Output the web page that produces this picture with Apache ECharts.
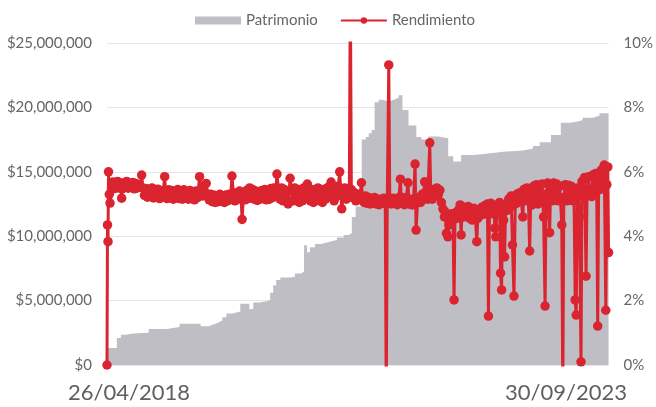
<!DOCTYPE html>
<html>
	<head>
		<meta charset="UTF-8">
		<script type="text/javascript" src="https://cdn.jsdelivr.net/npm/echarts/dist/echarts.min.js"></script>
		<title>Patrimonio y Rendimiento</title>
		<style>
			html, body { margin: 0; padding: 0; background: #fff; }
		</style>
	</head>
	<body>
		<div id="graph" style="width: 656px; height: 407px;"></div>
	</body>
	<script>
		// x = days since 26/04/2018
		var xLabels = ['26/04/2018', '30/09/2023'];
		var totalDays = 1983;
		var seriesNames = ['Patrimonio', 'Rendimiento'];

		// [day, patrimonio in $]
		var patrimonio = [
			[0, 1320000], [39, 2100000], [55, 2350000], [75, 2450000], [102, 2500000], [165, 2800000],
			[236, 2950000], [287, 3200000], [370, 3000000], [401, 3150000], [421, 3300000], [441, 3450000],
			[456, 3700000], [472, 4000000], [496, 4150000], [527, 4750000], [563, 4350000], [578, 4850000],
			[602, 4950000], [633, 5050000], [645, 5600000], [657, 6200000], [669, 6600000], [685, 6800000],
			[724, 6850000], [743, 7100000], [767, 7250000], [779, 9300000], [791, 8750000], [802, 9150000],
			[822, 9400000], [846, 9550000], [877, 9700000], [909, 9900000], [936, 10100000], [956, 10250000],
			[968, 11500000], [983, 12300000], [1007, 17500000], [1023, 17700000], [1035, 18000000], [1046, 18250000],
			[1058, 20400000], [1074, 20600000], [1090, 20450000], [1113, 20600000], [1133, 20750000], [1153, 20950000],
			[1168, 19800000], [1192, 18600000], [1223, 17700000], [1243, 17500000], [1271, 17750000], [1310, 17600000],
			[1349, 16200000], [1369, 15800000], [1400, 16300000], [1448, 16400000], [1499, 16550000], [1566, 16650000],
			[1644, 16800000], [1684, 17000000], [1711, 17300000], [1755, 17850000], [1794, 18800000], [1829, 18900000],
			[1861, 19000000], [1880, 19200000], [1920, 19350000], [1947, 19550000], [1983, 19650000]
		];

		// [day, rendimiento in %]
		var rendimiento = [
			[0, 0], [2, 4.35], [4, 3.83], [6, 6.0], [9, 5.3], [12, 5.03],
			[18, 5.5], [24, 5.68], [30, 5.48], [36, 5.62], [42, 5.7], [48, 5.5], [54, 5.64], [58, 5.18],
			[60, 5.47], [66, 5.66], [72, 5.52], [78, 5.7], [84, 5.49], [90, 5.62], [96, 5.55], [102, 5.67],
			[108, 5.47], [114, 5.64], [120, 5.5], [126, 5.6], [132, 5.52], [137, 5.9],
			[142, 5.5], [148, 5.27], [154, 5.48], [160, 5.21], [166, 5.44], [172, 5.25], [178, 5.5], [184, 5.19],
			[190, 5.42], [196, 5.23], [202, 5.46], [208, 5.17], [214, 5.4], [220, 5.21], [228, 5.85], [232, 5.35],
			[238, 5.17], [244, 5.44], [250, 5.23], [256, 5.42], [262, 5.15], [268, 5.38], [274, 5.2], [280, 5.45],
			[286, 5.17], [292, 5.4], [298, 5.15], [304, 5.44], [310, 5.21], [316, 5.38], [322, 5.15], [328, 5.42],
			[334, 5.19], [340, 5.36], [346, 5.13], [352, 5.4], [358, 5.2], [366, 5.85], [372, 5.45], [378, 5.25],
			[384, 5.55], [388, 5.35], [392, 5.64], [398, 5.25],
			[404, 5.13], [410, 5.3], [416, 5.07], [422, 5.28], [428, 5.05], [434, 5.25], [440, 5.07], [446, 5.3],
			[452, 5.09], [458, 5.26], [464, 5.05], [470, 5.28], [476, 5.1], [482, 5.3], [488, 5.15], [494, 5.87],
			[500, 5.3], [506, 5.1], [512, 5.35], [518, 5.15], [524, 5.4], [530, 5.2], [534, 4.52], [540, 5.3],
			[546, 5.13], [552, 5.42], [558, 5.17], [564, 5.5], [570, 5.25], [576, 5.45], [582, 5.15], [588, 5.4],
			[594, 5.11], [600, 5.38], [606, 5.15], [612, 5.42], [618, 5.2], [624, 5.45], [630, 5.13],
			[636, 5.4], [642, 5.15], [648, 5.48], [654, 5.2], [660, 5.5], [666, 5.25], [672, 5.93], [678, 5.45],
			[684, 5.15], [690, 5.5], [696, 5.1], [702, 5.45], [708, 5.2], [716, 5.0], [724, 5.8], [730, 5.4],
			[736, 5.1], [742, 5.5], [748, 5.15], [754, 5.45], [760, 5.05], [766, 5.4], [772, 5.1], [778, 5.5],
			[784, 5.25], [792, 5.62], [798, 5.35], [804, 5.1], [810, 5.45], [816, 5.05], [822, 5.4], [828, 5.15],
			[834, 5.5], [840, 5.1], [846, 5.45], [852, 5.05], [858, 5.4], [864, 5.15], [870, 5.5], [876, 5.25],
			[880, 5.55], [886, 5.68], [892, 5.35], [898, 5.1], [904, 5.45], [910, 5.25], [914, 5.55], [920, 6.0],
			[928, 4.85], [934, 5.25], [940, 5.5], [946, 5.15], [952, 5.45], [958, 5.25], [962, 12], [966, 5.45],
			[972, 5.2], [978, 5.35], [984, 5.1], [990, 5.3], [996, 5.15], [1000, 5.28], [1006, 5.66], [1010, 5.2],
			[1016, 5.05], [1022, 5.25], [1028, 5.02], [1034, 5.2], [1040, 5.0], [1046, 5.18], [1052, 5.02], [1058, 5.2],
			[1064, 5.0], [1070, 5.15], [1076, 4.98], [1082, 5.15], [1088, 5.02], [1094, 5.18], [1100, 5.05], [1104, -1],
			[1108, 5.1], [1114, 9.32], [1118, 5.15], [1124, 5.0], [1130, 5.18], [1136, 5.02], [1142, 5.15], [1148, 4.98],
			[1154, 5.2], [1160, 5.77], [1164, 5.05], [1170, 5.2], [1176, 4.98], [1182, 5.12], [1190, 5.66], [1194, 5.0],
			[1200, 5.15], [1206, 4.97], [1212, 5.15], [1218, 6.24], [1222, 4.19], [1228, 5.05], [1234, 5.2], [1240, 5.05],
			[1246, 5.3], [1252, 5.15], [1256, 5.69], [1262, 5.4], [1268, 5.15], [1276, 6.9], [1280, 5.35], [1286, 5.15],
			[1292, 5.45], [1298, 5.25], [1304, 5.5], [1310, 5.3], [1316, 5.43], [1322, 5.05],
			[1328, 4.85], [1334, 4.6], [1338, 4.75], [1342, 4.09], [1348, 3.98], [1352, 4.35], [1358, 4.5], [1364, 4.7],
			[1368, 4.55], [1372, 2.02], [1376, 4.72], [1382, 4.55], [1388, 4.8], [1392, 4.6], [1396, 4.97], [1400, 4.04],
			[1404, 4.8], [1410, 4.6], [1416, 4.9], [1422, 4.7], [1428, 4.92], [1434, 4.55], [1440, 4.85], [1444, 4.5],
			[1450, 4.87], [1456, 4.6], [1462, 3.83], [1466, 4.55], [1470, 4.8],
			[1476, 4.65], [1482, 4.9], [1488, 4.68], [1494, 4.95], [1500, 4.72], [1504, 5.0], [1508, 1.52], [1512, 4.75],
			[1518, 5.02], [1524, 4.7], [1530, 4.95], [1533, 4.25], [1537, 3.98], [1542, 4.9], [1548, 4.7], [1552, 5.05],
			[1556, 2.85], [1560, 2.33], [1564, 4.8], [1568, 4.5], [1572, 3.36], [1576, 4.95], [1582, 4.8], [1588, 5.15],
			[1594, 4.9], [1598, 5.25], [1603, 3.73], [1609, 2.14], [1614, 5.0], [1620, 5.3], [1626, 5.05], [1632, 5.35],
			[1638, 5.1], [1644, 4.6], [1648, 5.45], [1654, 5.1], [1660, 5.5], [1666, 5.15], [1671, 3.54], [1676, 5.4],
			[1680, 4.97], [1686, 5.55], [1692, 5.1], [1698, 5.6], [1704, 5.0], [1710, 5.55], [1716, 5.1], [1720, 5.62],
			[1726, 4.6], [1732, 1.83], [1736, 5.3], [1742, 5.65], [1746, 5.15], [1750, 4.11], [1754, 5.6], [1760, 5.1],
			[1766, 5.65], [1772, 5.2], [1778, 5.62], [1784, 5.1], [1790, 5.55], [1798, 4.35], [1802, -1], [1806, 5.2],
			[1812, 5.6], [1818, 5.1], [1824, 5.58], [1830, 5.15], [1836, 5.55], [1842, 5.1], [1846, 5.45], [1851, 2.02],
			[1855, 1.55], [1860, 5.5], [1864, 5.25], [1868, 4.6], [1874, 0.1], [1878, 5.7], [1884, 5.3], [1888, 5.82],
			[1894, 2.76], [1898, 5.4], [1904, 5.85], [1908, 5.3], [1916, 5.23], [1920, 5.9], [1926, 5.4], [1932, 5.95],
			[1936, 5.5], [1940, 1.21], [1944, 5.95], [1950, 5.45], [1954, 6.05], [1958, 5.55], [1962, 6.1], [1966, 6.21],
			[1972, 1.7], [1976, 5.6], [1980, 6.15], [1983, 3.49]
		];

		var gray = '#c0bec5';
		var red = '#da2430';
		var textColor = '#666666';

		function money(v) {
			return '$' + String(v).replace(/\B(?=(\d{3})+(?!\d))/g, ',');
		}

		var myChart = echarts.init(document.getElementById('graph'));
		var option = {
			animation: false,
			textStyle: { fontFamily: 'Lato' },
			legend: {
				left: 190,
				top: 8,
				itemWidth: 46,
				itemHeight: 8,
				itemGap: 22,
				textStyle: { fontFamily: 'Lato', fontSize: 15, color: textColor },
				data: [
					{ name: seriesNames[0], icon: 'rect' },
					{ name: seriesNames[1] }
				]
			},
			grid: { left: 107, right: 45, top: 43, bottom: 42 },
			xAxis: {
				type: 'value',
				min: 0,
				max: totalDays,
				interval: totalDays,
				splitLine: { show: false },
				axisLine: { show: false },
				axisTick: { show: false },
				axisLabel: {
					margin: 17,
					fontFamily: 'Lato',
					fontSize: 22,
					color: '#606060',
					formatter: function (v) {
						return v === 0 ? '{a|' + xLabels[0] + '}' : '{b|' + xLabels[1] + '}';
					},
					rich: {
						a: { fontFamily: 'Lato', fontSize: 22, color: '#606060', padding: [0, 0, 0, 44] },
						b: { fontFamily: 'Lato', fontSize: 22, color: '#606060', padding: [0, 85, 0, 0] }
					}
				}
			},
			yAxis: [
				{
					type: 'value',
					min: 0,
					max: 25000000,
					interval: 5000000,
					axisLine: { show: false },
					axisTick: { show: false },
					splitLine: { lineStyle: { color: '#e6e6e6', width: 1 } },
					axisLabel: {
						margin: 15,
						fontFamily: 'Lato',
						fontSize: 15,
						color: textColor,
						formatter: money
					}
				},
				{
					type: 'value',
					min: 0,
					max: 10,
					interval: 2,
					axisLine: { show: false },
					axisTick: { show: false },
					splitLine: { show: false },
					axisLabel: {
						margin: 15,
						fontFamily: 'Lato',
						fontSize: 15,
						color: textColor,
						formatter: '{value}%'
					}
				}
			],
			series: [
				{
					name: seriesNames[0],
					type: 'line',
					step: 'end',
					yAxisIndex: 0,
					symbol: 'none',
					color: gray,
					lineStyle: { width: 0, color: gray },
					areaStyle: { color: gray, opacity: 1 },
					data: patrimonio,
					z: 1
				},
				{
					name: seriesNames[1],
					type: 'line',
					yAxisIndex: 1,
					symbol: 'circle',
					symbolSize: 9.5,
					showAllSymbol: true,
					color: red,
					lineStyle: { width: 3, color: red },
					itemStyle: { color: red },
					data: rendimiento,
					z: 3
				}
			]
		};
		myChart.setOption(option);
	</script>
</html>
